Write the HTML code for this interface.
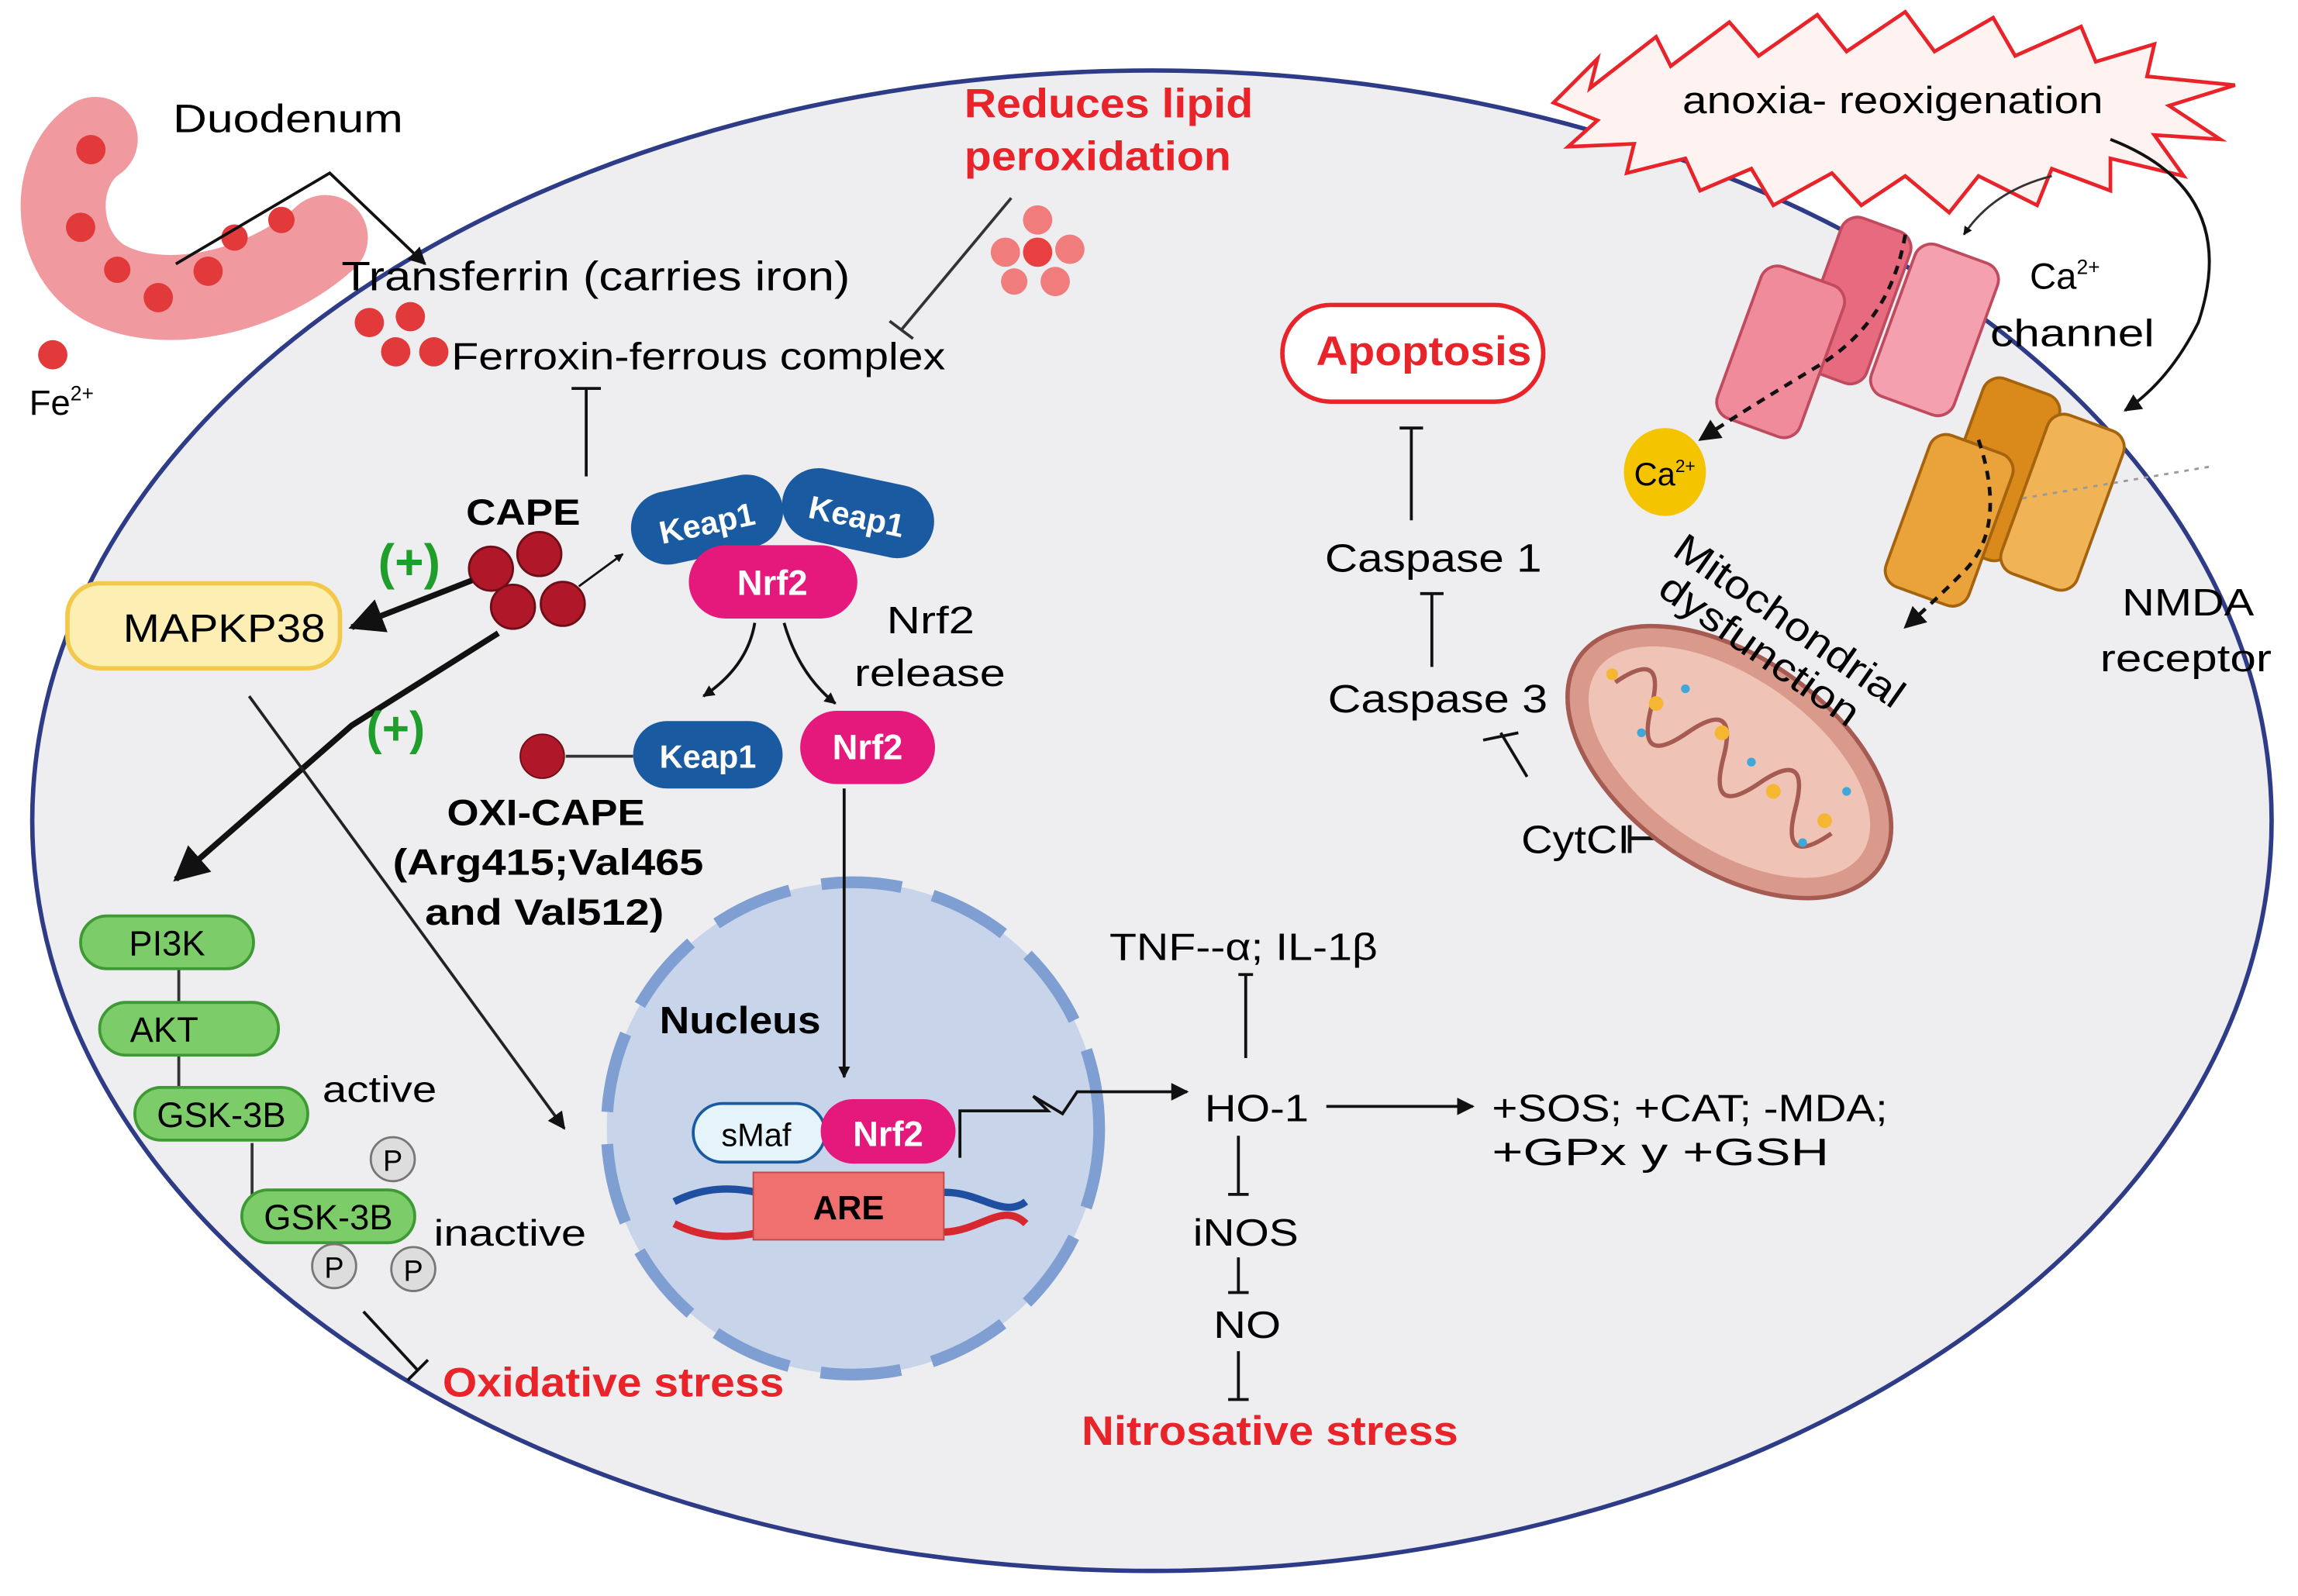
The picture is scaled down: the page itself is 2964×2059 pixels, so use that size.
<!DOCTYPE html>
<html><head><meta charset="utf-8"><style>
html,body{margin:0;padding:0;background:#fff;}
svg{display:block;}
text{font-family:"Liberation Sans",sans-serif;}
</style></head><body>
<svg width="2964" height="2059" viewBox="0 0 1568 1089" xmlns="http://www.w3.org/2000/svg">
<defs>
<marker id="ar" viewBox="0 0 10 10" refX="9" refY="5" markerWidth="6" markerHeight="6" orient="auto"><path d="M0,0L10,5L0,10z" fill="#111"/></marker>
<marker id="arb" viewBox="0 0 10 10" refX="9" refY="5" markerWidth="4" markerHeight="4" orient="auto"><path d="M0,0L10,5L0,10z" fill="#111"/></marker>
</defs>
<rect width="1568" height="1089" fill="#fff"/>
<ellipse cx="786" cy="560" rx="764" ry="512" fill="#eeeef1" stroke="#2e3b86" stroke-width="3"/>

<!-- duodenum -->
<path d="M65,95 C35,115 35,170 70,192 C110,215 180,200 222,162" fill="none" stroke="#f09aa0" stroke-width="58" stroke-linecap="round"/>
<g fill="#e23a3a">
<circle cx="62" cy="102" r="10"/><circle cx="55" cy="155" r="10"/><circle cx="80" cy="184" r="9"/><circle cx="108" cy="203" r="10"/><circle cx="142" cy="185" r="10"/><circle cx="160" cy="162" r="9"/><circle cx="192" cy="150" r="9"/><circle cx="36" cy="242" r="10"/>
</g>
<text x="118" y="90" font-size="27" textLength="157" lengthAdjust="spacingAndGlyphs">Duodenum</text>
<text x="20" y="283" font-size="24">Fe<tspan font-size="14" dy="-10">2+</tspan></text>
<path d="M120,180 L225,118 L290,180" fill="none" stroke="#111" stroke-width="2" marker-end="url(#ar)"/>
<text x="233" y="198" font-size="28" textLength="347" lengthAdjust="spacingAndGlyphs">Transferrin (carries iron)</text>
<g fill="#e23a3a"><circle cx="252" cy="220" r="10"/><circle cx="280" cy="216" r="10"/><circle cx="270" cy="240" r="10"/><circle cx="296" cy="240" r="10"/></g>
<text x="308" y="252" font-size="26" textLength="337" lengthAdjust="spacingAndGlyphs">Ferroxin-ferrous complex</text>
<text x="658" y="80" font-size="28" font-weight="bold" fill="#e8232a" textLength="197" lengthAdjust="spacingAndGlyphs">Reduces lipid</text>
<text x="658" y="116" font-size="28" font-weight="bold" fill="#e8232a" textLength="182" lengthAdjust="spacingAndGlyphs">peroxidation</text>
<g fill="#f07c7c"><circle cx="708" cy="150" r="10"/><circle cx="686" cy="172" r="10"/><circle cx="730" cy="170" r="10"/><circle cx="708" cy="172" r="10" fill="#e84040"/><circle cx="720" cy="192" r="10"/><circle cx="692" cy="192" r="9"/></g>
<path d="M690,135 L615,225 M607,219 L623,231" stroke="#333" stroke-width="2"/>
<path d="M400,325 V265 M390,265 H410" stroke="#111" stroke-width="2"/>

<!-- CAPE -->
<text x="318" y="358" font-size="25" font-weight="bold" textLength="78" lengthAdjust="spacingAndGlyphs">CAPE</text>
<text x="258" y="395" font-size="34" font-weight="bold" fill="#1f9e2c">(+)</text>
<g fill="#b0182a" stroke="#6e0e18" stroke-width="1.5"><circle cx="335" cy="388" r="15"/><circle cx="368" cy="378" r="15"/><circle cx="350" cy="414" r="15"/><circle cx="384" cy="412" r="15"/></g>
<path d="M395,400 L425,378" stroke="#111" stroke-width="1.5" marker-end="url(#arb)"/>
<rect x="46" y="398" width="186" height="58" rx="22" fill="#fdeeb3" stroke="#f2c94a" stroke-width="3"/>
<text x="84" y="438" font-size="27" textLength="138" lengthAdjust="spacingAndGlyphs">MAPKP38</text>
<path d="M322,396 L240,428" stroke="#111" stroke-width="4" marker-end="url(#ar)"/>
<path d="M340,432 L240,495 L120,600" fill="none" stroke="#111" stroke-width="4" marker-end="url(#ar)"/>
<text x="250" y="508" font-size="32" font-weight="bold" fill="#1f9e2c">(+)</text>
<path d="M170,475 L385,770" stroke="#222" stroke-width="2" marker-end="url(#ar)"/>

<!-- Keap1/Nrf2 -->
<g transform="rotate(-12 480 355)"><rect x="430" y="330" width="105" height="50" rx="25" fill="#1a5aa0"/><text x="482" y="365" font-size="22" font-weight="bold" fill="#fff" text-anchor="middle">Keap1</text></g>
<g transform="rotate(12 585 350)"><rect x="533" y="325" width="105" height="50" rx="25" fill="#1a5aa0"/><text x="585" y="360" font-size="22" font-weight="bold" fill="#fff" text-anchor="middle">Keap1</text></g>
<rect x="470" y="372" width="115" height="50" rx="25" fill="#e5187c"/><text x="527" y="406" font-size="24" font-weight="bold" fill="#fff" text-anchor="middle">Nrf2</text>
<text x="605" y="432" font-size="26" textLength="60" lengthAdjust="spacingAndGlyphs">Nrf2</text><text x="583" y="468" font-size="26" textLength="103" lengthAdjust="spacingAndGlyphs">release</text>
<path d="M515,425 Q510,455 480,475" fill="none" stroke="#111" stroke-width="2" marker-end="url(#arb)"/>
<path d="M535,425 Q545,460 570,480" fill="none" stroke="#111" stroke-width="2" marker-end="url(#arb)"/>
<circle cx="370" cy="516" r="15" fill="#b0182a" stroke="#6e0e18"/>
<path d="M386,516 H432" stroke="#333" stroke-width="2"/>
<rect x="432" y="492" width="102" height="46" rx="23" fill="#1a5aa0"/><text x="483" y="524" font-size="22" font-weight="bold" fill="#fff" text-anchor="middle">Keap1</text>
<rect x="546" y="485" width="92" height="50" rx="25" fill="#e5187c"/><text x="592" y="518" font-size="24" font-weight="bold" fill="#fff" text-anchor="middle">Nrf2</text>
<text x="305" y="563" font-size="25" font-weight="bold" textLength="135" lengthAdjust="spacingAndGlyphs">OXI-CAPE</text>
<text x="268" y="597" font-size="25" font-weight="bold" textLength="212" lengthAdjust="spacingAndGlyphs">(Arg415;Val465</text>
<text x="290" y="631" font-size="25" font-weight="bold" textLength="163" lengthAdjust="spacingAndGlyphs">and Val512)</text>

<!-- PI3K chain -->
<path d="M122,655 V770 M172,780 V815" stroke="#333" stroke-width="2"/>
<rect x="55" y="625" width="118" height="36" rx="18" fill="#7dcc6a" stroke="#3e9a34" stroke-width="2"/><text x="114" y="652" font-size="24" text-anchor="middle">PI3K</text>
<rect x="68" y="684" width="122" height="36" rx="18" fill="#7dcc6a" stroke="#3e9a34" stroke-width="2"/><text x="112" y="711" font-size="24" text-anchor="middle">AKT</text>
<rect x="92" y="742" width="118" height="36" rx="18" fill="#7dcc6a" stroke="#3e9a34" stroke-width="2"/><text x="151" y="769" font-size="24" text-anchor="middle">GSK-3B</text>
<text x="220" y="752" font-size="25" textLength="78" lengthAdjust="spacingAndGlyphs">active</text>
<rect x="165" y="812" width="118" height="36" rx="18" fill="#7dcc6a" stroke="#3e9a34" stroke-width="2"/><text x="224" y="839" font-size="24" text-anchor="middle">GSK-3B</text>
<text x="296" y="850" font-size="25" textLength="104" lengthAdjust="spacingAndGlyphs">inactive</text>
<g fill="#ddd" stroke="#777" stroke-width="1.5"><circle cx="268" cy="791" r="15"/><circle cx="228" cy="864" r="15"/><circle cx="282" cy="866" r="15"/></g>
<text x="268" y="799" font-size="20" text-anchor="middle">P</text><text x="228" y="872" font-size="20" text-anchor="middle">P</text><text x="282" y="874" font-size="20" text-anchor="middle">P</text>
<path d="M248,895 L285,935 M278,942 L292,928" stroke="#111" stroke-width="2"/>
<text x="302" y="953" font-size="28" font-weight="bold" fill="#e8232a" textLength="233" lengthAdjust="spacingAndGlyphs">Oxidative stress</text>

<!-- nucleus -->
<circle cx="582" cy="770" r="168" fill="#c7d4ea" stroke="#7f9ed1" stroke-width="8" stroke-dasharray="55 22"/>
<text x="450" y="705" font-size="26" font-weight="bold" textLength="110" lengthAdjust="spacingAndGlyphs">Nucleus</text>
<path d="M576,538 V735" stroke="#111" stroke-width="2" marker-end="url(#arb)"/>
<path d="M460,820 C520,790 560,850 620,820 C660,800 680,835 700,820" fill="none" stroke="#1f4fa0" stroke-width="5"/>
<path d="M460,835 C520,865 560,805 620,835 C660,855 680,815 700,835" fill="none" stroke="#d7282f" stroke-width="5"/>
<rect x="514" y="800" width="130" height="46" fill="#f07070" stroke="#c04848"/><text x="579" y="832" font-size="23" font-weight="bold" text-anchor="middle">ARE</text>
<rect x="473" y="753" width="90" height="40" rx="20" fill="#e5f3fb" stroke="#1a5aa0" stroke-width="2"/><text x="516" y="782" font-size="22" text-anchor="middle">sMaf</text>
<rect x="560" y="750" width="92" height="44" rx="22" fill="#e5187c"/><text x="606" y="782" font-size="24" font-weight="bold" fill="#fff" text-anchor="middle">Nrf2</text>
<path d="M655,790 V758 H715 L705,748 L725,760 L735,745 H810" fill="none" stroke="#111" stroke-width="2" marker-end="url(#ar)"/>

<!-- HO-1 -->
<text x="757" y="655" font-size="26" textLength="183" lengthAdjust="spacingAndGlyphs">TNF--α; IL-1β</text>
<path d="M845,665 H855 M850,665 V722" stroke="#111" stroke-width="2"/>
<text x="822" y="765" font-size="26" textLength="71" lengthAdjust="spacingAndGlyphs">HO-1</text>
<path d="M905,755 H1005" stroke="#111" stroke-width="2" marker-end="url(#ar)"/>
<text x="1018" y="765" font-size="26" textLength="270" lengthAdjust="spacingAndGlyphs">+SOS; +CAT; -MDA;</text>
<text x="1018" y="795" font-size="26" textLength="230" lengthAdjust="spacingAndGlyphs">+GPx y +GSH</text>
<path d="M845,775 V815 M838,815 H852" stroke="#111" stroke-width="2"/>
<text x="814" y="850" font-size="26" textLength="72" lengthAdjust="spacingAndGlyphs">iNOS</text>
<path d="M845,858 V882 M838,882 H852" stroke="#111" stroke-width="2"/>
<text x="828" y="913" font-size="26" textLength="46" lengthAdjust="spacingAndGlyphs">NO</text>
<path d="M845,922 V955 M838,955 H852" stroke="#111" stroke-width="2"/>
<text x="738" y="986" font-size="28" font-weight="bold" fill="#e8232a" textLength="257" lengthAdjust="spacingAndGlyphs">Nitrosative stress</text>

<!-- apoptosis -->
<rect x="875" y="208" width="178" height="66" rx="33" fill="#fff" stroke="#e8232a" stroke-width="3"/>
<text x="898" y="249" font-size="28" font-weight="bold" fill="#e8232a" textLength="147" lengthAdjust="spacingAndGlyphs">Apoptosis</text>
<path d="M955,292 H971 M963,292 V355" stroke="#111" stroke-width="2"/>
<text x="904" y="390" font-size="27" textLength="148" lengthAdjust="spacingAndGlyphs">Caspase 1</text>
<path d="M969,405 H985 M977,405 V455" stroke="#111" stroke-width="2"/>
<text x="906" y="486" font-size="27" textLength="150" lengthAdjust="spacingAndGlyphs">Caspase 3</text>
<path d="M1036,500 L1012,505 M1024,500 L1042,530" stroke="#111" stroke-width="2"/>
<text x="1038" y="582" font-size="27" textLength="74" lengthAdjust="spacingAndGlyphs">CytCI</text>
<path d="M1112,563 V582 M1112,572 H1150 Q1165,560 1158,545" fill="none" stroke="#111" stroke-width="2.5"/>

<!-- mitochondria -->
<g transform="rotate(35 1180 520)">
<ellipse cx="1180" cy="520" rx="125" ry="72" fill="#d99a8c" stroke="#a55b52" stroke-width="3"/>
<ellipse cx="1180" cy="520" rx="110" ry="58" fill="#efc3b6"/>
<path d="M1085,520 Q1100,480 1115,520 Q1130,560 1145,520 Q1160,480 1175,520 Q1190,560 1205,520 Q1220,480 1235,520 Q1250,560 1265,520" fill="none" stroke="#a55b52" stroke-width="3"/>
</g>
<g fill="#f5b731"><circle cx="1130" cy="480" r="5"/><circle cx="1175" cy="500" r="5"/><circle cx="1210" cy="540" r="5"/><circle cx="1245" cy="560" r="5"/><circle cx="1100" cy="460" r="4"/></g>
<g fill="#40a8d8"><circle cx="1150" cy="470" r="3"/><circle cx="1195" cy="520" r="3"/><circle cx="1230" cy="575" r="3"/><circle cx="1120" cy="500" r="3"/><circle cx="1260" cy="540" r="3"/></g>
<text transform="translate(1140,378) rotate(35)" font-size="27" textLength="185" lengthAdjust="spacingAndGlyphs">Mitochondrial</text>
<text transform="translate(1130,405) rotate(35)" font-size="27" textLength="160" lengthAdjust="spacingAndGlyphs">dysfunction</text>

<!-- starburst -->
<polygon points="1060,70 1090,40 1085,60 1130,25 1140,45 1180,15 1200,38 1240,10 1260,35 1300,8 1320,35 1360,12 1375,38 1420,18 1430,42 1470,30 1465,52 1525,58 1480,72 1515,95 1470,92 1490,120 1440,108 1440,130 1400,115 1390,140 1350,120 1330,145 1300,120 1270,140 1250,118 1210,140 1195,115 1160,130 1150,108 1110,118 1115,98 1070,100 1090,82" fill="#fff3f2" stroke="#e8232a" stroke-width="2.5"/>
<text x="1148" y="77" font-size="26" textLength="287" lengthAdjust="spacingAndGlyphs">anoxia- reoxigenation</text>
<path d="M1400,120 Q1360,130 1340,160" fill="none" stroke="#333" stroke-width="1.5" marker-end="url(#arb)"/>
<path d="M1440,95 Q1530,130 1500,220 Q1480,260 1450,280" fill="none" stroke="#111" stroke-width="2" marker-end="url(#ar)"/>

<!-- Ca channel -->
<g fill="#e86a7e" stroke="#c04b5e" stroke-width="2">
<rect x="1240" y="150" width="50" height="110" rx="12" transform="rotate(20 1265 205)"/>
<rect x="1185" y="185" width="60" height="110" rx="12" fill="#f08b9c" transform="rotate(20 1215 240)"/>
<rect x="1290" y="170" width="60" height="110" rx="12" fill="#f4a0ae" transform="rotate(20 1320 225)"/>
</g>
<text x="1385" y="197" font-size="25">Ca<tspan font-size="14" dy="-10">2+</tspan></text>
<text x="1358" y="236" font-size="26" textLength="112" lengthAdjust="spacingAndGlyphs">channel</text>
<path d="M1300,160 Q1290,220 1240,250 Q1190,280 1160,300" fill="none" stroke="#111" stroke-width="2.5" stroke-dasharray="6 5" marker-end="url(#ar)"/>
<ellipse cx="1136" cy="322" rx="28" ry="30" fill="#f5c400"/>
<text x="1115" y="331" font-size="22">Ca<tspan font-size="12" dy="-9">2+</tspan></text>

<!-- NMDA -->
<g fill="#d98a1a" stroke="#a5630e" stroke-width="2">
<rect x="1335" y="260" width="55" height="120" rx="12" transform="rotate(20 1362 320)"/>
<rect x="1300" y="300" width="60" height="110" rx="12" fill="#e9a33a" transform="rotate(20 1330 355)"/>
<rect x="1380" y="285" width="55" height="115" rx="12" fill="#f0b356" transform="rotate(20 1407 342)"/>
</g>
<path d="M1380,340 L1510,318" stroke="#999" stroke-width="1.5" stroke-dasharray="3 4"/>
<path d="M1350,300 Q1370,360 1340,390 Q1320,410 1300,428" fill="none" stroke="#111" stroke-width="2.5" stroke-dasharray="6 5" marker-end="url(#ar)"/>
<text x="1448" y="420" font-size="26" textLength="90" lengthAdjust="spacingAndGlyphs">NMDA</text>
<text x="1433" y="458" font-size="26" textLength="117" lengthAdjust="spacingAndGlyphs">receptor</text>
</svg>
</body></html>
